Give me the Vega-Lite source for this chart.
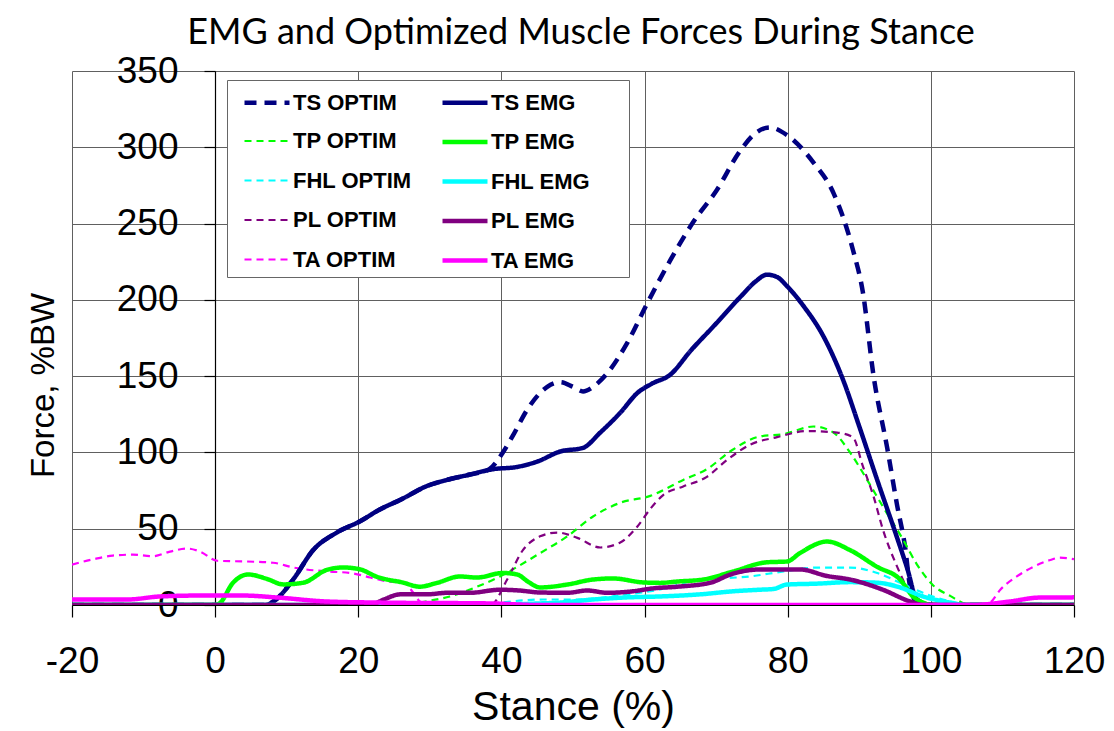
{
  "$schema": "https://vega.github.io/schema/vega-lite/v6.json",
  "width": 1002,
  "height": 534,
  "autosize": {"type": "none"},
  "padding": {"left": 72, "top": 71, "right": 40, "bottom": 126},
  "background": "white",
  "title": {
    "text": "EMG and Optimized Muscle Forces During Stance",
    "font": "Lato",
    "fontSize": 36,
    "fontWeight": "normal",
    "color": "black",
    "anchor": "middle",
    "offset": 0,
    "dx": 8
  },
  "config": {
    "view": {"stroke": null},
    "axis": {
      "labelFont": "Liberation Sans",
      "titleFont": "Liberation Sans",
      "labelColor": "black",
      "titleColor": "black",
      "labelFontSize": 37,
      "titleFontSize": 41,
      "titleFontWeight": "normal",
      "gridColor": "#606060",
      "gridWidth": 1,
      "gridOpacity": 1,
      "domainColor": "black",
      "domainWidth": 1.2,
      "tickColor": "black",
      "tickWidth": 1.2
    }
  },
  "data": {
    "values": [
      {"s": "TS OPTIM", "x": -20, "y": 0}, {"s": "TS OPTIM", "x": 7, "y": 0}, {"s": "TS OPTIM", "x": 8.6, "y": 4}, {"s": "TS OPTIM", "x": 10.9, "y": 16.7}, {"s": "TS OPTIM", "x": 13.7, "y": 36}, {"s": "TS OPTIM", "x": 17, "y": 47.5}, {"s": "TS OPTIM", "x": 20.3, "y": 55}, {"s": "TS OPTIM", "x": 23, "y": 62.6}, {"s": "TS OPTIM", "x": 25.9, "y": 69}, {"s": "TS OPTIM", "x": 29.6, "y": 78}, {"s": "TS OPTIM", "x": 32.4, "y": 82}, {"s": "TS OPTIM", "x": 35.6, "y": 85.5}, {"s": "TS OPTIM", "x": 38.3, "y": 89}, {"s": "TS OPTIM", "x": 40.2, "y": 100}, {"s": "TS OPTIM", "x": 41.6, "y": 111}, {"s": "TS OPTIM", "x": 43.6, "y": 128}, {"s": "TS OPTIM", "x": 46.4, "y": 143}, {"s": "TS OPTIM", "x": 48.2, "y": 146}, {"s": "TS OPTIM", "x": 50, "y": 143}, {"s": "TS OPTIM", "x": 51.4, "y": 140}, {"s": "TS OPTIM", "x": 52.8, "y": 143}, {"s": "TS OPTIM", "x": 54.8, "y": 152}, {"s": "TS OPTIM", "x": 57.6, "y": 172}, {"s": "TS OPTIM", "x": 60.4, "y": 198}, {"s": "TS OPTIM", "x": 63.6, "y": 226}, {"s": "TS OPTIM", "x": 66.8, "y": 251}, {"s": "TS OPTIM", "x": 70.1, "y": 272}, {"s": "TS OPTIM", "x": 73.4, "y": 298}, {"s": "TS OPTIM", "x": 75.7, "y": 310}, {"s": "TS OPTIM", "x": 77.5, "y": 313}, {"s": "TS OPTIM", "x": 79.9, "y": 308}, {"s": "TS OPTIM", "x": 83.6, "y": 290}, {"s": "TS OPTIM", "x": 86.4, "y": 270}, {"s": "TS OPTIM", "x": 89.1, "y": 233}, {"s": "TS OPTIM", "x": 90.5, "y": 205}, {"s": "TS OPTIM", "x": 92, "y": 150}, {"s": "TS OPTIM", "x": 93.9, "y": 103}, {"s": "TS OPTIM", "x": 95.3, "y": 65}, {"s": "TS OPTIM", "x": 96.4, "y": 38}, {"s": "TS OPTIM", "x": 97.1, "y": 12}, {"s": "TS OPTIM", "x": 98, "y": 2}, {"s": "TS OPTIM", "x": 99, "y": 0}, {"s": "TS OPTIM", "x": 120, "y": 0},

      {"s": "TP OPTIM", "x": -20, "y": 0}, {"s": "TP OPTIM", "x": 27, "y": 0}, {"s": "TP OPTIM", "x": 28.6, "y": 1.6}, {"s": "TP OPTIM", "x": 32.8, "y": 5.6}, {"s": "TP OPTIM", "x": 36.6, "y": 12}, {"s": "TP OPTIM", "x": 39.8, "y": 18.7}, {"s": "TP OPTIM", "x": 42.2, "y": 25}, {"s": "TP OPTIM", "x": 45.4, "y": 34}, {"s": "TP OPTIM", "x": 49.2, "y": 45}, {"s": "TP OPTIM", "x": 52.8, "y": 58}, {"s": "TP OPTIM", "x": 56.6, "y": 67}, {"s": "TP OPTIM", "x": 60.8, "y": 71.5}, {"s": "TP OPTIM", "x": 65.4, "y": 82}, {"s": "TP OPTIM", "x": 68.7, "y": 89}, {"s": "TP OPTIM", "x": 72, "y": 100.8}, {"s": "TP OPTIM", "x": 76.1, "y": 110.5}, {"s": "TP OPTIM", "x": 79.4, "y": 112}, {"s": "TP OPTIM", "x": 83.6, "y": 117}, {"s": "TP OPTIM", "x": 86.4, "y": 113}, {"s": "TP OPTIM", "x": 88.7, "y": 100}, {"s": "TP OPTIM", "x": 91.1, "y": 82}, {"s": "TP OPTIM", "x": 93.3, "y": 64.5}, {"s": "TP OPTIM", "x": 96.1, "y": 43}, {"s": "TP OPTIM", "x": 98, "y": 27}, {"s": "TP OPTIM", "x": 100.3, "y": 13}, {"s": "TP OPTIM", "x": 102.7, "y": 6}, {"s": "TP OPTIM", "x": 105, "y": 0.5}, {"s": "TP OPTIM", "x": 106, "y": 0}, {"s": "TP OPTIM", "x": 120, "y": 0},

      {"s": "FHL OPTIM", "x": -20, "y": 0}, {"s": "FHL OPTIM", "x": 38, "y": 0}, {"s": "FHL OPTIM", "x": 40.2, "y": 1.6}, {"s": "FHL OPTIM", "x": 45.8, "y": 3.6}, {"s": "FHL OPTIM", "x": 50.6, "y": 3.6}, {"s": "FHL OPTIM", "x": 57.6, "y": 7}, {"s": "FHL OPTIM", "x": 62, "y": 10}, {"s": "FHL OPTIM", "x": 67.8, "y": 16.7}, {"s": "FHL OPTIM", "x": 74.7, "y": 18.7}, {"s": "FHL OPTIM", "x": 79.4, "y": 22}, {"s": "FHL OPTIM", "x": 84.1, "y": 24.5}, {"s": "FHL OPTIM", "x": 88.7, "y": 24.5}, {"s": "FHL OPTIM", "x": 92.5, "y": 21}, {"s": "FHL OPTIM", "x": 95.7, "y": 14.6}, {"s": "FHL OPTIM", "x": 98.9, "y": 8}, {"s": "FHL OPTIM", "x": 102.7, "y": 2.3}, {"s": "FHL OPTIM", "x": 105, "y": 0}, {"s": "FHL OPTIM", "x": 120, "y": 0},

      {"s": "PL OPTIM", "x": -20, "y": 0}, {"s": "PL OPTIM", "x": 38.5, "y": 0}, {"s": "PL OPTIM", "x": 40.8, "y": 16.7}, {"s": "PL OPTIM", "x": 43, "y": 36}, {"s": "PL OPTIM", "x": 45.4, "y": 45}, {"s": "PL OPTIM", "x": 47.8, "y": 47.5}, {"s": "PL OPTIM", "x": 50.6, "y": 44}, {"s": "PL OPTIM", "x": 53.8, "y": 37.7}, {"s": "PL OPTIM", "x": 56.6, "y": 41}, {"s": "PL OPTIM", "x": 59, "y": 51.5}, {"s": "PL OPTIM", "x": 60.8, "y": 63}, {"s": "PL OPTIM", "x": 62.6, "y": 72}, {"s": "PL OPTIM", "x": 65.4, "y": 77.7}, {"s": "PL OPTIM", "x": 68.7, "y": 84}, {"s": "PL OPTIM", "x": 71.5, "y": 95}, {"s": "PL OPTIM", "x": 74.7, "y": 105}, {"s": "PL OPTIM", "x": 78.5, "y": 110}, {"s": "PL OPTIM", "x": 82.7, "y": 114}, {"s": "PL OPTIM", "x": 86.9, "y": 113}, {"s": "PL OPTIM", "x": 89.1, "y": 110}, {"s": "PL OPTIM", "x": 90.5, "y": 91}, {"s": "PL OPTIM", "x": 92, "y": 71}, {"s": "PL OPTIM", "x": 93.3, "y": 49.5}, {"s": "PL OPTIM", "x": 95.3, "y": 25}, {"s": "PL OPTIM", "x": 97.1, "y": 8}, {"s": "PL OPTIM", "x": 98.9, "y": 1.6}, {"s": "PL OPTIM", "x": 100, "y": 0}, {"s": "PL OPTIM", "x": 120, "y": 0},

      {"s": "TA OPTIM", "x": -20, "y": 26.5}, {"s": "TA OPTIM", "x": -17, "y": 30}, {"s": "TA OPTIM", "x": -14.3, "y": 32.4}, {"s": "TA OPTIM", "x": -11.5, "y": 33}, {"s": "TA OPTIM", "x": -8.7, "y": 32}, {"s": "TA OPTIM", "x": -6.3, "y": 35}, {"s": "TA OPTIM", "x": -3.9, "y": 37}, {"s": "TA OPTIM", "x": -2.1, "y": 35}, {"s": "TA OPTIM", "x": 0.3, "y": 29}, {"s": "TA OPTIM", "x": 4.5, "y": 28.5}, {"s": "TA OPTIM", "x": 8.1, "y": 27.7}, {"s": "TA OPTIM", "x": 10.9, "y": 24.6}, {"s": "TA OPTIM", "x": 15.6, "y": 22}, {"s": "TA OPTIM", "x": 18.9, "y": 21}, {"s": "TA OPTIM", "x": 21.7, "y": 18}, {"s": "TA OPTIM", "x": 24, "y": 15.5}, {"s": "TA OPTIM", "x": 26.3, "y": 14.6}, {"s": "TA OPTIM", "x": 27.7, "y": 8}, {"s": "TA OPTIM", "x": 28.6, "y": 2.3}, {"s": "TA OPTIM", "x": 30, "y": 0}, {"s": "TA OPTIM", "x": 107.5, "y": 0}, {"s": "TA OPTIM", "x": 108.3, "y": 1.6}, {"s": "TA OPTIM", "x": 109.7, "y": 10}, {"s": "TA OPTIM", "x": 112, "y": 18.7}, {"s": "TA OPTIM", "x": 114.3, "y": 25}, {"s": "TA OPTIM", "x": 116.7, "y": 29.5}, {"s": "TA OPTIM", "x": 118, "y": 31}, {"s": "TA OPTIM", "x": 120, "y": 30},

      {"s": "TS EMG", "x": -20, "y": 0}, {"s": "TS EMG", "x": 7, "y": 0}, {"s": "TS EMG", "x": 8.6, "y": 4}, {"s": "TS EMG", "x": 10.9, "y": 16.7}, {"s": "TS EMG", "x": 13.7, "y": 36}, {"s": "TS EMG", "x": 17, "y": 47.5}, {"s": "TS EMG", "x": 20.3, "y": 55}, {"s": "TS EMG", "x": 23, "y": 62.6}, {"s": "TS EMG", "x": 25.9, "y": 69}, {"s": "TS EMG", "x": 29.6, "y": 78}, {"s": "TS EMG", "x": 32.4, "y": 82}, {"s": "TS EMG", "x": 35.6, "y": 85.5}, {"s": "TS EMG", "x": 38.8, "y": 89}, {"s": "TS EMG", "x": 42.2, "y": 90.5}, {"s": "TS EMG", "x": 45, "y": 94}, {"s": "TS EMG", "x": 48.2, "y": 100.6}, {"s": "TS EMG", "x": 51.4, "y": 103}, {"s": "TS EMG", "x": 53.8, "y": 113}, {"s": "TS EMG", "x": 56.6, "y": 126}, {"s": "TS EMG", "x": 59, "y": 139}, {"s": "TS EMG", "x": 61, "y": 145}, {"s": "TS EMG", "x": 63.6, "y": 151}, {"s": "TS EMG", "x": 66.5, "y": 167}, {"s": "TS EMG", "x": 69.6, "y": 182.5}, {"s": "TS EMG", "x": 73.4, "y": 202}, {"s": "TS EMG", "x": 75.5, "y": 212}, {"s": "TS EMG", "x": 77.1, "y": 216.5}, {"s": "TS EMG", "x": 78.5, "y": 215}, {"s": "TS EMG", "x": 79.9, "y": 209}, {"s": "TS EMG", "x": 82.2, "y": 196}, {"s": "TS EMG", "x": 85, "y": 176}, {"s": "TS EMG", "x": 87.7, "y": 148}, {"s": "TS EMG", "x": 90, "y": 117}, {"s": "TS EMG", "x": 92.5, "y": 82}, {"s": "TS EMG", "x": 95, "y": 48}, {"s": "TS EMG", "x": 96.7, "y": 24}, {"s": "TS EMG", "x": 98, "y": 4}, {"s": "TS EMG", "x": 99.5, "y": 0.5}, {"s": "TS EMG", "x": 101, "y": 0}, {"s": "TS EMG", "x": 120, "y": 0},

      {"s": "TP EMG", "x": -20, "y": 0}, {"s": "TP EMG", "x": 0, "y": 0}, {"s": "TP EMG", "x": 0.6, "y": 1}, {"s": "TP EMG", "x": 2.5, "y": 14.6}, {"s": "TP EMG", "x": 4.6, "y": 20}, {"s": "TP EMG", "x": 7.3, "y": 17}, {"s": "TP EMG", "x": 9.5, "y": 13.5}, {"s": "TP EMG", "x": 12.3, "y": 14.6}, {"s": "TP EMG", "x": 15.6, "y": 23}, {"s": "TP EMG", "x": 17.9, "y": 24.6}, {"s": "TP EMG", "x": 20.3, "y": 23.3}, {"s": "TP EMG", "x": 22.6, "y": 18.5}, {"s": "TP EMG", "x": 24, "y": 16.7}, {"s": "TP EMG", "x": 26, "y": 15}, {"s": "TP EMG", "x": 28.6, "y": 12}, {"s": "TP EMG", "x": 31, "y": 14.5}, {"s": "TP EMG", "x": 34.2, "y": 18.7}, {"s": "TP EMG", "x": 36.6, "y": 18}, {"s": "TP EMG", "x": 40.2, "y": 21}, {"s": "TP EMG", "x": 42.2, "y": 20}, {"s": "TP EMG", "x": 43.8, "y": 15}, {"s": "TP EMG", "x": 45.4, "y": 11.5}, {"s": "TP EMG", "x": 49.2, "y": 13.4}, {"s": "TP EMG", "x": 52.8, "y": 16.7}, {"s": "TP EMG", "x": 55.6, "y": 17.4}, {"s": "TP EMG", "x": 59.8, "y": 14.8}, {"s": "TP EMG", "x": 62.2, "y": 14.5}, {"s": "TP EMG", "x": 64.6, "y": 15.4}, {"s": "TP EMG", "x": 68.2, "y": 16.7}, {"s": "TP EMG", "x": 72.4, "y": 22}, {"s": "TP EMG", "x": 77.1, "y": 28}, {"s": "TP EMG", "x": 79.9, "y": 28.5}, {"s": "TP EMG", "x": 81.7, "y": 34}, {"s": "TP EMG", "x": 85.5, "y": 41.6}, {"s": "TP EMG", "x": 88.7, "y": 36}, {"s": "TP EMG", "x": 92.5, "y": 25}, {"s": "TP EMG", "x": 95.7, "y": 16.7}, {"s": "TP EMG", "x": 97.5, "y": 5.6}, {"s": "TP EMG", "x": 98.9, "y": 1.6}, {"s": "TP EMG", "x": 100, "y": 0}, {"s": "TP EMG", "x": 120, "y": 0},

      {"s": "FHL EMG", "x": -20, "y": 0}, {"s": "FHL EMG", "x": 40, "y": 0}, {"s": "FHL EMG", "x": 44, "y": 0.8}, {"s": "FHL EMG", "x": 48.2, "y": 1.6}, {"s": "FHL EMG", "x": 52.8, "y": 3.6}, {"s": "FHL EMG", "x": 57.6, "y": 5}, {"s": "FHL EMG", "x": 62.2, "y": 5.6}, {"s": "FHL EMG", "x": 67.8, "y": 7}, {"s": "FHL EMG", "x": 72.4, "y": 9}, {"s": "FHL EMG", "x": 76, "y": 10}, {"s": "FHL EMG", "x": 78, "y": 10.5}, {"s": "FHL EMG", "x": 79.9, "y": 13.4}, {"s": "FHL EMG", "x": 84.1, "y": 14}, {"s": "FHL EMG", "x": 88.7, "y": 15}, {"s": "FHL EMG", "x": 92.5, "y": 14.6}, {"s": "FHL EMG", "x": 95.7, "y": 11.5}, {"s": "FHL EMG", "x": 98.9, "y": 5.6}, {"s": "FHL EMG", "x": 102.7, "y": 1.6}, {"s": "FHL EMG", "x": 105, "y": 0}, {"s": "FHL EMG", "x": 120, "y": 0},

      {"s": "PL EMG", "x": -20, "y": 0}, {"s": "PL EMG", "x": 21.7, "y": 0}, {"s": "PL EMG", "x": 23.5, "y": 3.5}, {"s": "PL EMG", "x": 25.9, "y": 7}, {"s": "PL EMG", "x": 29.6, "y": 7}, {"s": "PL EMG", "x": 32.4, "y": 8}, {"s": "PL EMG", "x": 35.6, "y": 8}, {"s": "PL EMG", "x": 39.8, "y": 10}, {"s": "PL EMG", "x": 42.5, "y": 9.5}, {"s": "PL EMG", "x": 45.4, "y": 8.2}, {"s": "PL EMG", "x": 49.2, "y": 8}, {"s": "PL EMG", "x": 52, "y": 9.5}, {"s": "PL EMG", "x": 54.8, "y": 8}, {"s": "PL EMG", "x": 58.4, "y": 9}, {"s": "PL EMG", "x": 61, "y": 10.8}, {"s": "PL EMG", "x": 64.6, "y": 12}, {"s": "PL EMG", "x": 69.2, "y": 14.6}, {"s": "PL EMG", "x": 72, "y": 20}, {"s": "PL EMG", "x": 76.1, "y": 23.3}, {"s": "PL EMG", "x": 81.7, "y": 23.3}, {"s": "PL EMG", "x": 85.5, "y": 19}, {"s": "PL EMG", "x": 88.7, "y": 16.7}, {"s": "PL EMG", "x": 93.3, "y": 10}, {"s": "PL EMG", "x": 97.1, "y": 2.3}, {"s": "PL EMG", "x": 98.9, "y": 0}, {"s": "PL EMG", "x": 120, "y": 0},

      {"s": "TA EMG", "x": -20, "y": 3.6}, {"s": "TA EMG", "x": -12.3, "y": 3.6}, {"s": "TA EMG", "x": -7.7, "y": 5.6}, {"s": "TA EMG", "x": -2.1, "y": 6.2}, {"s": "TA EMG", "x": 3.9, "y": 6.2}, {"s": "TA EMG", "x": 8.7, "y": 4.9}, {"s": "TA EMG", "x": 15.6, "y": 2.3}, {"s": "TA EMG", "x": 22.6, "y": 1.6}, {"s": "TA EMG", "x": 38.8, "y": 1}, {"s": "TA EMG", "x": 45, "y": 0}, {"s": "TA EMG", "x": 106, "y": 0}, {"s": "TA EMG", "x": 107.3, "y": 0.3}, {"s": "TA EMG", "x": 111, "y": 2.3}, {"s": "TA EMG", "x": 115.3, "y": 4.9}, {"s": "TA EMG", "x": 120, "y": 5}
    ]
  },
  "mark": {"type": "line", "interpolate": "monotone", "clip": true},
  "encoding": {
    "x": {
      "field": "x",
      "type": "quantitative",
      "scale": {"domain": [-20, 120], "nice": false},
      "axis": {
        "values": [-20, 0, 20, 40, 60, 80, 100, 120],
        "labelExpr": "'' + datum.value",
        "title": "Stance (%)",
        "tickSize": 12,
        "labelPadding": 26,
        "titlePadding": 8,
        "labelFlush": false
      }
    },
    "y": {
      "field": "y",
      "type": "quantitative",
      "scale": {"domain": [0, 350], "nice": false},
      "axis": {
        "values": [0, 50, 100, 150, 200, 250, 300, 350],
        "title": "Force, %BW",
        "titleFontSize": 33,
        "offset": -143,
        "tickSize": 11,
        "labelPadding": 26,
        "labelFlush": false,
        "titleAngle": -90,
        "titleAlign": "center",
        "titleBaseline": "middle",
        "titleX": -172,
        "titleY": 314
      }
    },
    "color": {
      "field": "s",
      "type": "nominal",
      "title": "\u00a0\u00a0\u00a0\u00a0",
      "scale": {
        "domain": ["TS OPTIM", "TP OPTIM", "FHL OPTIM", "PL OPTIM", "TA OPTIM", "TS EMG", "TP EMG", "FHL EMG", "PL EMG", "TA EMG"],
        "range": ["#000080", "#00FF00", "#00FFFF", "#800080", "#FF00FF", "#000080", "#00FF00", "#00FFFF", "#800080", "#FF00FF"]
      },
      "legend": {
        "orient": "none",
        "legendX": 155,
        "legendY": 9,
        "columns": 2,
        "columnPadding": 18,
        "rowPadding": 10.5,
        "padding": 5,
        "symbolType": "M-1.5,0H1.5",
        "symbolSize": 900,
        "symbolOffset": 17.5,
        "labelFont": "Liberation Sans",
        "labelFontSize": 22,
        "labelFontWeight": "bold",
        "labelColor": "black",
        "labelLimit": 300,
        "labelOffset": 8.5,
        "titleOrient": "right",
        "titleFont": "Liberation Sans",
        "titleFontSize": 22,
        "titlePadding": 34,
        "strokeColor": "#666666",
        "fillColor": "white"
      }
    },
    "strokeDash": {
      "field": "s",
      "type": "nominal",
      "title": "\u00a0\u00a0\u00a0\u00a0",
      "scale": {
        "domain": ["TS OPTIM", "TP OPTIM", "FHL OPTIM", "PL OPTIM", "TA OPTIM", "TS EMG", "TP EMG", "FHL EMG", "PL EMG", "TA EMG"],
        "range": [[12, 8], [7, 5], [7, 5], [7, 5], [7, 5], [1, 0], [1, 0], [1, 0], [1, 0], [1, 0]]
      }
    },
    "strokeWidth": {
      "field": "s",
      "type": "nominal",
      "title": "\u00a0\u00a0\u00a0\u00a0",
      "scale": {
        "type": "ordinal",
        "domain": ["TS OPTIM", "TP OPTIM", "FHL OPTIM", "PL OPTIM", "TA OPTIM", "TS EMG", "TP EMG", "FHL EMG", "PL EMG", "TA EMG"],
        "range": [4.5, 2.2, 2.2, 2.2, 2.2, 4.5, 4.5, 4.5, 4.5, 4.5]
      }
    }
  }
}
